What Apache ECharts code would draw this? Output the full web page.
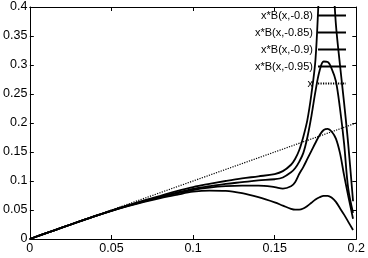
<!DOCTYPE html>
<html>
<head>
<meta charset="utf-8">
<script src="https://cdn.jsdelivr.net/npm/echarts@6/dist/echarts.min.js"></script>
<style>html,body{margin:0;padding:0;background:#fff;}#c{width:368px;height:258px;}</style>
</head>
<body>
<div id="c"></div>
<script>
const seriesNames = ['x*B(x,-0.8)', 'x*B(x,-0.85)', 'x*B(x,-0.9)', 'x*B(x,-0.95)', 'x'];
const xs = [0, 0.01, 0.02, 0.03, 0.04, 0.05, 0.06, 0.07, 0.08, 0.09, 0.1, 0.11, 0.12, 0.13, 0.14, 0.15,
  0.155, 0.16, 0.1625, 0.165, 0.1675, 0.17, 0.1725, 0.175, 0.1775, 0.18, 0.1825, 0.185, 0.1875, 0.19, 0.1925, 0.195, 0.198];
const yA = [0, 0.01, 0.02, 0.0299, 0.0397, 0.049, 0.058, 0.0665, 0.0745, 0.0825, 0.0895, 0.095, 0.1, 0.1045, 0.108, 0.112,
  0.117, 0.128, 0.138, 0.153, 0.176, 0.205, 0.25, 0.31, 0.44, 0.52, 0.53, 0.48, 0.37, 0.3, 0.235, 0.165, 0.065];
const yB = [0, 0.01, 0.02, 0.0299, 0.0396, 0.0488, 0.0575, 0.0655, 0.073, 0.08, 0.0865, 0.091, 0.095, 0.098, 0.101, 0.103,
  0.106, 0.115, 0.122, 0.133, 0.148, 0.175, 0.212, 0.255, 0.29, 0.306, 0.305, 0.293, 0.272, 0.225, 0.165, 0.088, 0.045];
const yC = [0, 0.01, 0.02, 0.0298, 0.0395, 0.0486, 0.057, 0.0648, 0.072, 0.0785, 0.0845, 0.0885, 0.091, 0.092, 0.092, 0.0895,
  0.087, 0.091, 0.098, 0.112, 0.124, 0.138, 0.152, 0.166, 0.179, 0.188, 0.19, 0.185, 0.173, 0.148, 0.11, 0.075, 0.035];
const yD = [0, 0.01, 0.0199, 0.0297, 0.0393, 0.0483, 0.0565, 0.064, 0.0705, 0.0762, 0.0815, 0.0835, 0.083, 0.079, 0.072, 0.063,
  0.0575, 0.052, 0.0505, 0.0505, 0.0525, 0.057, 0.0625, 0.068, 0.072, 0.0745, 0.0745, 0.071, 0.064, 0.053, 0.042, 0.03, 0.0155];
const lineX = [0, 0.2];
const lineY = [0, 0.2];
const xTicks = ['0', '0.05', '0.1', '0.15', '0.2'];
const yTicks = ['0', '0.05', '0.1', '0.15', '0.2', '0.25', '0.3', '0.35', '0.4'];

const pair = (a, b) => a.map((v, i) => [v, b[i]]);
const curves = [yA, yB, yC, yD];
const font = 'Liberation Sans, Arial, Helvetica, sans-serif';

const series = curves.map((ys, i) => ({
  name: seriesNames[i], type: 'line', data: pair(xs, ys), symbol: 'none', showSymbol: false, smooth: 0.35,
  lineStyle: { color: '#000', width: 1.8 }, itemStyle: { color: '#000' }, xAxisIndex: 0, yAxisIndex: 0
}));
series.push({
  name: seriesNames[4], type: 'line', data: pair(lineX, lineY), symbol: 'none', showSymbol: false,
  lineStyle: { color: '#000', width: 1.2, type: [1.2, 1.3] }, itemStyle: { color: '#000' }, xAxisIndex: 0, yAxisIndex: 0
});

const axisCommon = {
  axisLine: { show: true, onZero: false, lineStyle: { color: '#000', width: 1 } },
  axisTick: { show: true, inside: true, length: 4, lineStyle: { color: '#000', width: 1 } },
  splitLine: { show: false }
};

const chart = echarts.init(document.getElementById('c'), null, { renderer: 'canvas' });
chart.setOption({
  animation: false,
  backgroundColor: '#fff',
  grid: { left: 28, right: 11, top: 7, bottom: 19, containLabel: false },
  legend: {
    data: seriesNames, orient: 'vertical', align: 'right', right: 21, top: 10,
    itemWidth: 28, itemHeight: 10, itemGap: 6, padding: 0,
    itemStyle: { opacity: 0 },
    textStyle: { fontFamily: font, fontSize: 11, color: '#000' }
  },
  xAxis: [
    Object.assign({ type: 'value', min: 0, max: 0.2, interval: 0.05, position: 'bottom',
      axisLabel: { color: '#000', fontFamily: font, fontSize: 12.5, margin: 3,
        formatter: (v) => xTicks[Math.round(v / 0.05)] } }, axisCommon),
    Object.assign({ type: 'value', min: 0, max: 0.2, interval: 0.05, position: 'top',
      axisLabel: { show: false } }, axisCommon)
  ],
  yAxis: [
    Object.assign({ type: 'value', min: 0, max: 0.4, interval: 0.05, position: 'left',
      axisLabel: { color: '#000', fontFamily: font, fontSize: 12.5, margin: 2.5,
        formatter: (v) => yTicks[Math.round(v / 0.05)] } }, axisCommon),
    Object.assign({ type: 'value', min: 0, max: 0.4, interval: 0.05, position: 'right',
      axisLabel: { show: false } }, axisCommon)
  ],
  series: series
});
</script>
</body>
</html>
